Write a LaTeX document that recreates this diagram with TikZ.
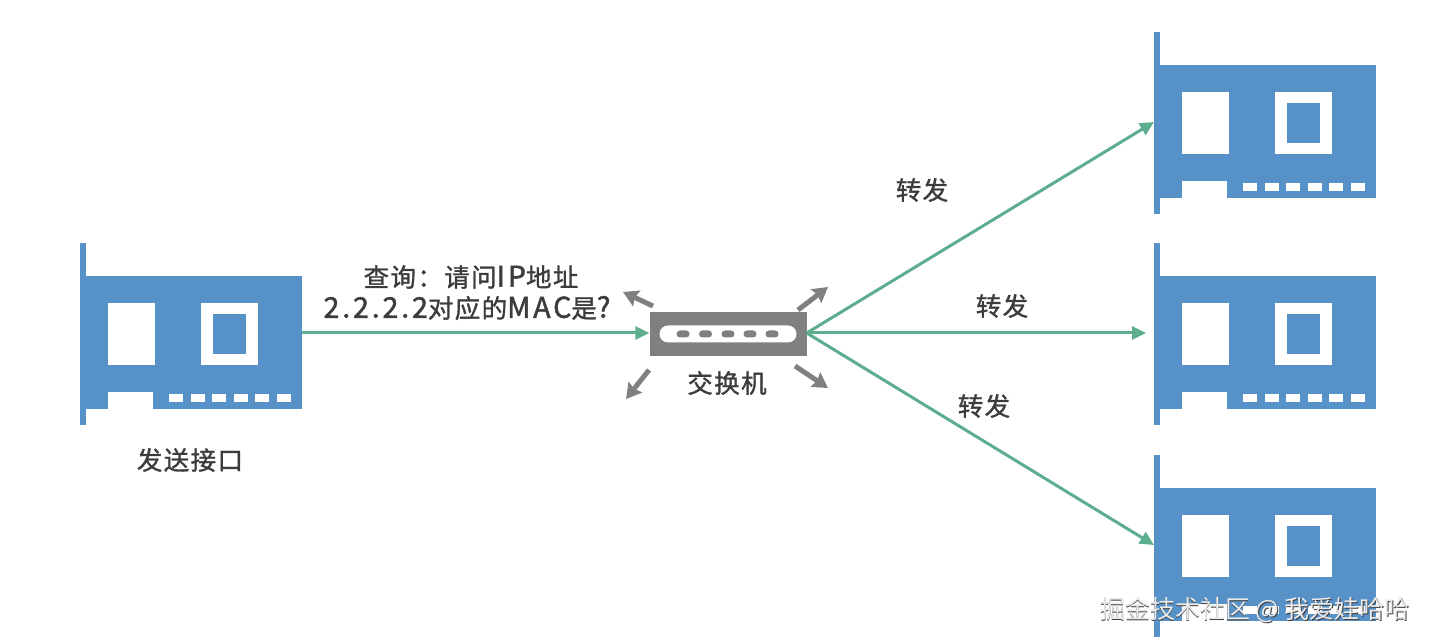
\documentclass[tikz,border=0pt]{standalone}
\usepackage{fontspec}
\setmainfont{Noto Sans CJK SC}[LetterSpace=5.5,FakeBold=1.2]
\newfontfamily\latinwide{Noto Sans CJK SC}[Scale=1.12,LetterSpace=10,FakeBold=1.6]
\newfontfamily\wmfont{Noto Sans CJK SC}
\usetikzlibrary{arrows.meta}
\definecolor{cardblue}{HTML}{5691C8}
\definecolor{flowgreen}{HTML}{5DAE8F}
\definecolor{swgray}{HTML}{808080}
\definecolor{txt}{HTML}{3C3C3C}
\tikzset{
  x=1pt,y=-1pt,
  cardbody/.style={fill=cardblue,draw=none,inner sep=0pt,minimum width=222pt,minimum height=133pt},
  hole/.style={fill=white,draw=none},
  blue/.style={fill=cardblue,draw=none},
  flow/.style={draw=flowgreen,line width=3pt,-{Stealth[length=14pt,width=13pt,inset=0pt]}},
  spread/.style={draw=swgray,line width=5pt,-{Stealth[length=15pt,width=17pt,inset=2pt]}},
  lbl/.style={text=txt,font=\fontsize{25.5}{30}\selectfont,inner sep=0pt,align=center},
  wmtext/.style={font=\wmfont\fontsize{25}{28}\selectfont,inner sep=0pt},
}
\newcommand{\nic}[3]{%
  \begin{scope}[shift={(#2,#3)}]
    \node[cardbody] (#1) at (191,342.5) {};
    \fill[blue] (80,243) rectangle (86.3,425);
    \fill[hole] (108,392) rectangle (153,410);
    \fill[hole] (108,303) rectangle (155,365);
    \fill[hole] (201,303) rectangle (258,365);
    \fill[blue] (213,314) rectangle (246,354);
    \foreach \k in {0,...,5}{\fill[hole] ({169+21.5*\k},394) rectangle ({183+21.5*\k},402);}
    \coordinate (#1-in) at (80,333);
    \coordinate (#1-out) at (302,333);
  \end{scope}}
\begin{document}
\begin{tikzpicture}
\useasboundingbox (0,0) rectangle (1430,644);
\fill[white] (0,0) rectangle (1430,644);
\nic{src}{0}{0}
\nic{dsta}{1074}{-211}
\nic{dstb}{1074}{0}
\nic{dstc}{1074}{212}
% switch
\node[fill=swgray,inner sep=0pt,minimum width=157pt,minimum height=44pt] (sw) at (728,334) {};
\node[fill=white,rounded corners=8.5pt,inner sep=0pt,minimum width=137pt,minimum height=17pt] (slot) at (sw.center) {};
\foreach \px in {683,705.5,728,750,772}{
  \fill[swgray,rounded corners=3.4pt] (\px-6.5,330.5) rectangle (\px+6.5,337.5);
}
\coordinate (swin) at (sw.west |- src-out);
\coordinate (swout) at (sw.east |- src-out);
% spread arrows
\coordinate (tla) at (653,306); \coordinate (tlb) at (623,292);
\coordinate (tra) at (798,310); \coordinate (trb) at (828,287);
\coordinate (bla) at (649,370); \coordinate (blb) at (626,399);
\coordinate (bra) at (795,366); \coordinate (brb) at (828,388);
\draw[spread] (tla) -- (tlb);
\draw[spread] (tra) -- (trb);
\draw[spread] (bla) -- (blb);
\draw[spread] (bra) -- (brb);
% flows
\draw[flow] (src-out) -- (swin);
\draw[flow] (swout) -- (dsta-in);
\draw[flow,shorten >=8pt] (swout) -- (dstb-in);
\draw[flow] (swout) -- (dstc-in);
% labels
\node[lbl] (q1) at (471,277) {查询^^^^ff1a请问{\latinwide IP}地址};
\node[lbl] (q2) at (467,308) {{\latinwide 2.2.2.2}对应的{\latinwide MAC}是{\latinwide ?}};
\node[lbl] (t1) at (922,190) {转发};
\node[lbl] (t2) at (1002,306) {转发};
\node[lbl] (t3) at (984,406) {转发};
\node[lbl] (swl) at (727,383) {交换机};
\node[lbl] (srcl) at (190,460) {发送接口};
% watermark
\node[wmtext,text=black!75] (wms) at (1255.8,610.8) {掘金技术社区 @ 我爱娃哈哈};
\node[wmtext,text=black!8] (wm) at (1255,610) {掘金技术社区 @ 我爱娃哈哈};
\end{tikzpicture}
\end{document}
